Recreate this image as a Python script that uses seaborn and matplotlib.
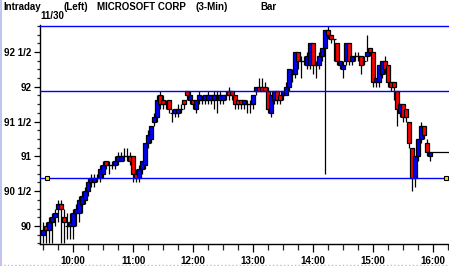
import matplotlib
matplotlib.use("Agg")
import matplotlib.pyplot as plt
import seaborn as sns
import numpy as np
import pandas as pd
from matplotlib.lines import Line2D
from matplotlib.ticker import MultipleLocator, FixedLocator, FixedFormatter

sns.set_style("ticks")
plt.rcParams['font.family'] = ['Liberation Sans', 'DejaVu Sans']

# ---- data (prices in sixteenths above 90.00, 3-minute bars from 9:30) ----
bar_minutes = list(range(0, 390, 3))
open_16 = [-2, 0, -1, 1, 2, 4, 5, 2, 0, 0, 0, 3, 3, 5, 6, 8, 10, 10, 11, 11,
           12, 15, 14, 14, 14, 15, 15, 16, 16, 16, 16, 12, 11, 13, 14, 19, 20, 24, 25, 30,
           29, 28, 29, 26, 26, 26, 27, 29, 31, 29, 29, 27, 29, 29, 29, 29, 29, 29, 30, 29,
           29, 30, 31, 31, 30, 29, 29, 28, 28, 28, 28, 31, 32, 32, 32, 31, 26, 29, 31, 30,
           30, 30, 32, 35, 35, 40, 38, 38, 37, 37, 42, 37, 37, 39, 41, 45, 44, 43, 42, 37,
           36, 38, 42, 38, 39, 39, 39, 38, 39, 41, 40, 33, 33, 35, 38, 37, 33, 33, 31, 26,
           28, 27, 24, 18, 11, 16, 20, 23, 19, 16]
close_16 = [-1, -1, 1, 2, 3, 5, 4, 1, 0, 1, 3, 4, 6, 7, 8, 10, 11, 11, 11, 13,
            14, 14, 14, 14, 15, 16, 16, 16, 16, 15, 12, 11, 13, 15, 19, 21, 23, 25, 29, 28,
            28, 28, 27, 26, 27, 27, 27, 28, 30, 30, 28, 29, 30, 29, 30, 30, 30, 30, 30, 30,
            30, 30, 30, 30, 28, 28, 28, 29, 28, 28, 30, 32, 31, 31, 31, 27, 30, 31, 29, 29,
            31, 32, 36, 35, 40, 38, 38, 38, 39, 42, 37, 37, 39, 41, 45, 44, 43, 43, 38, 38,
            37, 42, 38, 39, 39, 39, 37, 38, 40, 40, 33, 34, 37, 38, 36, 33, 32, 32, 27, 28,
            25, 25, 19, 11, 16, 20, 23, 21, 17, 17]
high_16 = [1, 1, 2, 3, 4, 6, 6, 4, 3, 3, 4, 5, 7, 8, 9, 11, 12, 12, 12, 14,
           15, 15, 15, 15, 16, 17, 17, 18, 18, 17, 16, 13, 14, 15, 19, 22, 23, 26, 30, 31,
           30, 29, 29, 27, 27, 28, 28, 29, 31, 31, 29, 29, 31, 30, 30, 31, 30, 31, 31, 31,
           30, 31, 32, 31, 30, 29, 29, 29, 29, 29, 30, 32, 34, 34, 33, 32, 30, 31, 31, 30,
           31, 33, 36, 36, 40, 40, 39, 39, 40, 42, 42, 38, 40, 41, 45, 46, 44, 43, 42, 38,
           38, 42, 42, 39, 40, 40, 39, 39, 44, 41, 40, 34, 37, 38, 39, 37, 33, 33, 31, 28,
           28, 27, 24, 18, 16, 20, 24, 23, 20, 17]
low_16 = [-4, -4, -4, -4, 0, 1, -4, -4, -3, -3, -3, 0, 1, 3, 5, 7, 9, 9, 10, 10,
          11, 13, 12, 13, 13, 14, 15, 15, 15, 14, 10, 10, 10, 12, 13, 18, 19, 23, 24, 27,
          27, 27, 26, 24, 25, 25, 26, 27, 29, 28, 27, 26, 28, 28, 28, 28, 28, 27, 26, 28,
          28, 29, 29, 29, 27, 27, 27, 27, 26, 26, 27, 30, 31, 31, 31, 26, 25, 28, 28, 28,
          29, 30, 31, 33, 34, 36, 34, 37, 36, 36, 35, 34, 36, 38, 12, 43, 42, 38, 37, 36,
          34, 37, 37, 37, 38, 38, 35, 37, 38, 39, 32, 32, 32, 34, 35, 32, 31, 29, 23, 25,
          24, 24, 18, 8, 9, 15, 19, 20, 16, 15]

resistance_16 = 31   # 91 15/16
support_16 = 11      # 90 11/16
day_high_16 = 46     # 92 7/8

y_tick_values = [90.0, 90.5, 91.0, 91.5, 92.0, 92.5]
y_tick_labels = ['90', '90 1/2', '91', '91 1/2', '92', '92 1/2']
x_tick_minutes = [30, 90, 150, 210, 270, 330, 390]
x_tick_labels = ['10:00', '11:00', '12:00', '13:00', '14:00', '15:00', '16:00']

base = 90.0
df = pd.DataFrame({
    'minute': bar_minutes,
    'open': base + np.array(open_16) / 16,
    'close': base + np.array(close_16) / 16,
    'high': base + np.array(high_16) / 16,
    'low': base + np.array(low_16) / 16,
})
df['up'] = df['close'] >= df['open']

W, H = 449, 266
fig = plt.figure(figsize=(W / 100, H / 100), dpi=100)
ax = fig.add_axes([40 / W, 22 / H, 409 / W, 219 / H])

# wicks
ax.vlines(df['minute'], df['low'], df['high'], color='black', linewidth=0.9, zorder=2)
# bodies
colors = np.where(df['up'], '#0000FF', '#FF0000')
ax.bar(df['minute'], df['close'] - df['open'], bottom=df['open'], width=4.2,
       color=colors, edgecolor='black', linewidth=0.9, zorder=3)

# horizontal reference lines
for lvl in (resistance_16, support_16, day_high_16):
    ax.axhline(base + lvl / 16, color='#0000FF', linewidth=1.0, zorder=4, clip_on=False)

# last price line
last = df.iloc[-1]
ax.hlines(last['close'], last['minute'] + 2, 406, color='black', linewidth=0.9, zorder=2)

# small markers on support line
ax.plot([4, 403], [base + support_16 / 16] * 2, linestyle='none', marker='s',
        markersize=3.5, markerfacecolor='#FFE000', markeredgecolor='black',
        markeredgewidth=0.8, zorder=5)

ax.set_xlim(-3, 406)
ax.set_ylim(89.741, 92.888)

ax.yaxis.set_major_locator(FixedLocator(y_tick_values))
ax.yaxis.set_major_formatter(FixedFormatter(y_tick_labels))
ax.yaxis.set_minor_locator(MultipleLocator(0.125))
ax.xaxis.set_major_locator(FixedLocator(x_tick_minutes))
ax.xaxis.set_major_formatter(FixedFormatter(x_tick_labels))
ax.xaxis.set_minor_locator(MultipleLocator(15))

ax.tick_params(axis='y', which='major', length=4, width=0.9, pad=2, labelsize=7, colors='black')
ax.tick_params(axis='y', which='minor', length=2.5, width=0.9)
ax.tick_params(axis='x', which='major', length=6, width=0.9, pad=3, labelsize=7, colors='black')
ax.tick_params(axis='x', which='minor', length=4, width=0.9)
for lab in ax.get_xticklabels() + ax.get_yticklabels():
    lab.set_fontweight('bold')

for s in ('top', 'right'):
    ax.spines[s].set_visible(False)
for s in ('left', 'bottom'):
    ax.spines[s].set_color('black')
    ax.spines[s].set_linewidth(1.0)
ax.grid(False)

# header texts
hdr = dict(fontsize=7, fontweight='bold', va='center', ha='left', color='black')
fig.text(3 / W, 1 - 7 / H, 'Intraday', **hdr)
fig.text(63 / W, 1 - 7 / H, '(Left)', **hdr)
fig.text(97 / W, 1 - 7 / H, 'MICROSOFT CORP', **hdr)
fig.text(195 / W, 1 - 7 / H, '(3-Min)', **hdr)
fig.text(260 / W, 1 - 7 / H, 'Bar', **hdr)
fig.text(40 / W, 1 - 16 / H, '11/30', **hdr)

# window border hints
fig.add_artist(Line2D([0.6 / W, 0.6 / W], [0, 1], color='#B8B8F0', linewidth=1.2))
fig.add_artist(Line2D([0, 1], [1.5 / H, 1.5 / H], color='#B8B8F0', linewidth=1.0, linestyle=':'))

fig.savefig('out.png', dpi=100)
